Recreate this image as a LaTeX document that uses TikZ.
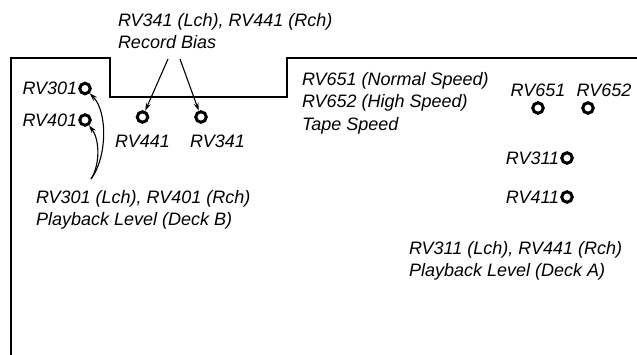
\documentclass[tikz,border=0pt]{standalone}
\usepackage{fontspec}
\setmainfont{Liberation Sans}
\usetikzlibrary{arrows.meta,positioning}

\begin{document}
\begin{tikzpicture}[x=1pt,y=-1pt,font=\fontsize{18}{22.75}\selectfont\itshape,>=Stealth]
    \tikzset{pot/.style={draw,circle,line width=3pt,minimum size=10.5pt,inner sep=0pt},
      lbl/.style={inner sep=0pt,outer sep=0pt},
      blk/.style={inner sep=0pt,outer sep=0pt,align=left,anchor=north west},
      ptr/.style={->,line width=1.1pt,>={Stealth[length=8pt,width=5pt]}}}
    \useasboundingbox (0,0) rectangle (637,354);
    % panel outline
    \draw[line width=2.4pt] (11,358) -- (11,58) -- (110,58) -- (110,97) -- (287,97) -- (287,58) -- (641,58);
    % adjusters
    \node[pot] (rv301) at (85,88.5) {};
    \node[pot] (rv401) at (85,120) {};
    \node[pot] (rv441) at (142.5,117) {};
    \node[pot] (rv341) at (201,117) {};
    \node[pot] (rv651) at (538,108) {};
    \node[pot] (rv652) at (588,108) {};
    \node[pot] (rv311) at (567,158) {};
    \node[pot] (rv411) at (567,197) {};
    \node[lbl,left=1pt of rv301] (rv301l) {RV301};
    \node[lbl,left=1pt of rv401] (rv401l) {RV401};
    \node[lbl,below=11pt of rv441] (rv441l) {RV441};
    \node[lbl,below=11pt of rv341,xshift=16.5pt] (rv341l) {RV341};
    \node[lbl,above=5pt of rv651] (rv651l) {RV651};
    \node[lbl,above=5pt of rv652,xshift=16pt] (rv652l) {RV652};
    \node[lbl,left=1pt of rv311] (rv311l) {RV311};
    \node[lbl,left=1pt of rv411] (rv411l) {RV411};
    % descriptions
    \node[blk] (bias) at (118,13) {RV341 (Lch), RV441 (Rch)\\Record Bias};
    \node[blk] (speed) at (302,72) {RV651 (Normal Speed)\\RV652 (High Speed)\\Tape Speed};
    \node[blk] (deckb) at (36,190) {RV301 (Lch), RV401 (Rch)\\Playback Level (Deck B)};
    \node[blk] (decka) at (409,241) {RV311 (Lch), RV441 (Rch)\\Playback Level (Deck A)};
    \coordinate (biasL) at (168,59);
    \coordinate (biasR) at (180,59);
    \coordinate (deckbT) at (91,179);
    \draw[ptr] (biasL) -- (rv441);
    \draw[ptr] (biasR) -- (rv341);
    \draw[ptr] (deckbT) .. controls (107,158) and (108,112) .. (rv301);
    \draw[ptr] (deckbT) .. controls (100,165) and (100,140) .. (rv401);
\end{tikzpicture}
\end{document}
